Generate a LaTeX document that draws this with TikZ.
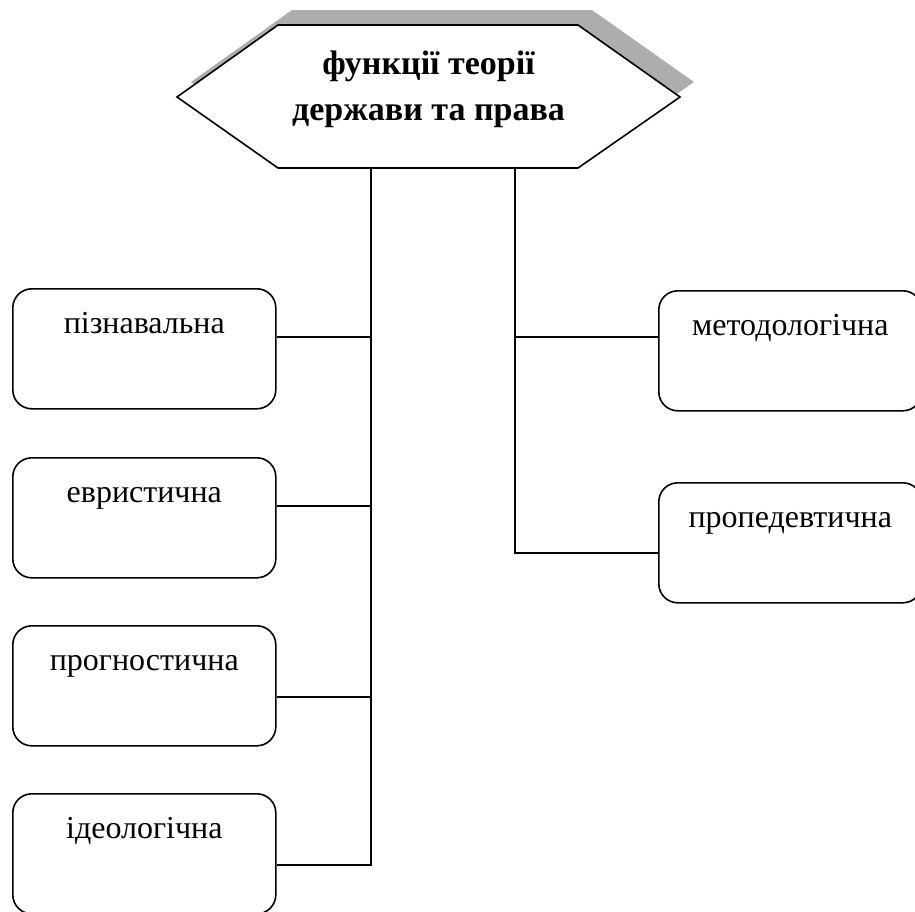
\documentclass[tikz,border=0pt]{standalone}
\usepackage{fontspec}
\setmainfont{Liberation Serif}
\begin{document}
\begin{tikzpicture}[x=1pt,y=-1pt,
  fbox/.style={draw,line width=1.6pt,rounded corners=19pt,rectangle,inner sep=0pt,
    minimum width=263pt,text height=45pt,text depth=75pt,anchor=north west,
    font=\fontsize{32}{38}\selectfont},
  conn/.style={line width=1.3pt},
  hexline/.style={line width=1.6pt}]
\clip (0,0) rectangle (915,911);
% shadow of hexagon
\fill[black!32] ([shift={(14,-15)}]177,97) -- ([shift={(14,-15)}]278,25) -- ([shift={(14,-15)}]578,25)
  -- ([shift={(14,-15)}]680,97) -- ([shift={(14,-15)}]578,168) -- ([shift={(14,-15)}]278,168) -- cycle;
% hexagon
\coordinate (hL) at (177,97);
\coordinate (hTL) at (278,25);
\coordinate (hTR) at (578,25);
\coordinate (hR) at (680,97);
\coordinate (hBR) at (578,168);
\coordinate (hBL) at (278,168);
\filldraw[hexline,fill=white] (hL) -- (hTL) -- (hTR) -- (hR) -- (hBR) -- (hBL) -- cycle;
\node[align=center,font=\fontsize{34}{46}\selectfont\bfseries,anchor=base,inner sep=0pt] (title) at (428.5,120)
  {функції теорії\\держави та права};
% left boxes
\node[fbox] (b1) at (12,288) {пізнавальна};
\node[fbox] (b2) at (12,457) {евристична};
\node[fbox] (b3) at (12,625) {прогностична};
\node[fbox] (b4) at (12,793) {ідеологічна};
% right boxes
\node[fbox] (m1) at (658,290) {методологічна};
\node[fbox] (m2) at (658,482) {пропедевтична};
% connectors
\coordinate (lTop) at (371,168);
\coordinate (lBot) at (371,865);
\coordinate (rTop) at (515,168);
\coordinate (rBot) at (515,553);
\draw[conn] (lTop) -- (lBot) -- (b4.east |- lBot);
\draw[conn] (b1.east |- 0,337) -- (lTop |- 0,337);
\draw[conn] (b2.east |- 0,506) -- (lTop |- 0,506);
\draw[conn] (b3.east |- 0,697) -- (lTop |- 0,697);
\draw[conn] (rTop) -- (rBot) -- (m2.west |- rBot);
\draw[conn] (rTop |- 0,337) -- (m1.west |- 0,337);
\end{tikzpicture}
\end{document}
